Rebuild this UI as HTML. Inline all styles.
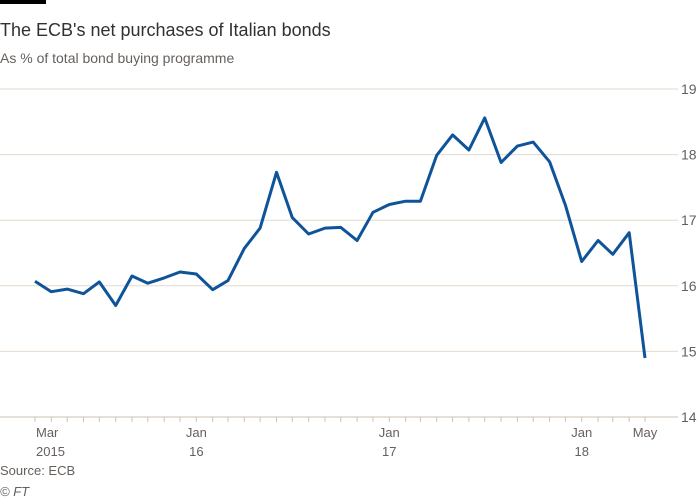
<!DOCTYPE html>
<html><head><meta charset="utf-8"><style>
body{margin:0;background:#fff;width:700px;height:500px;overflow:hidden;font-family:"Liberation Sans",sans-serif}
</style></head><body>
<svg width="700" height="500" style="position:absolute;left:0;top:0">
<rect x="0" y="0" width="46" height="4" fill="#000"/>
<text x="0" y="36" font-size="18" fill="#33302e">The ECB's net purchases of Italian bonds</text>
<text x="0" y="63" font-size="14" fill="#66605c">As % of total bond buying programme</text>
<g id="grid"></g><g id="xaxis"></g>
<path id="line" fill="none" stroke="#0f5499" stroke-width="3" stroke-linejoin="round"/>
<text x="0" y="475" font-size="13" fill="#66605c">Source: ECB</text>
<text x="0" y="496" font-size="13" font-style="italic" fill="#66605c">© FT</text>
</svg>
<script>
const yTicks=[14,15,16,17,18,19];
const startYear=2015, startMonth=2; // March 2015
const values=[16.07,15.91,15.95,15.88,16.06,15.70,16.15,16.04,16.12,16.21,16.18,15.94,16.08,16.57,16.88,17.73,17.04,16.79,16.88,16.89,16.69,17.12,17.24,17.29,17.29,17.99,18.30,18.07,18.56,17.88,18.13,18.19,17.89,17.23,16.37,16.69,16.48,16.81,14.90];
const xLabels=[["Mar","2015",2015,2],["Jan","16",2016,0],["Jan","17",2017,0],["Jan","18",2018,0],["May","",2018,4]];
const NS="http://www.w3.org/2000/svg";
const t0=Date.UTC(2015,2,1), t1=Date.UTC(2018,4,1);
const x=t=>35+(t-t0)/(t1-t0)*610;
const y=v=>417-(v-14)*65.6;
const grid=document.getElementById('grid'), xa=document.getElementById('xaxis');
function mk(tag,attrs,parent){const e=document.createElementNS(NS,tag);for(const k in attrs)e.setAttribute(k,attrs[k]);parent.appendChild(e);return e;}
yTicks.forEach(v=>{
 const l=mk('line',{x1:0,x2:678,y1:y(v),y2:y(v),stroke:v==14?'#cec2b7':'#e6d9ce','stroke-width':1},grid);
 
 
 const t=mk('text',{x:681,y:y(v)+5,'font-size':14,fill:'#66605c'},grid);
 t.textContent=v;
 
 
});
for(let i=0;i<values.length;i++){
 const px=x(Date.UTC(startYear,startMonth+i,1));
 const tk=mk('line',{x1:px,x2:px,y1:417,y2:422,stroke:'#cec2b7'},xa);
 
 
}
xLabels.forEach((l,i)=>{
 const px=x(Date.UTC(l[2],l[3],1));
 const anchor=i==0?'start':'middle';
 const t=mk('text',{x:i==0?px+1:px,y:437,'font-size':13,fill:'#66605c','text-anchor':anchor},xa);
 t.textContent=l[0];
 
 
 if(l[1]){const t2=mk('text',{x:i==0?px+1:px,y:456,'font-size':13,fill:'#66605c','text-anchor':anchor},xa);
 t2.textContent=l[1];
 
 }
});
document.getElementById('line').setAttribute('d',values.map((v,i)=>(i?'L':'M')+x(Date.UTC(startYear,startMonth+i,1)).toFixed(1)+','+y(v).toFixed(1)).join(''));
</script>
</body></html>
